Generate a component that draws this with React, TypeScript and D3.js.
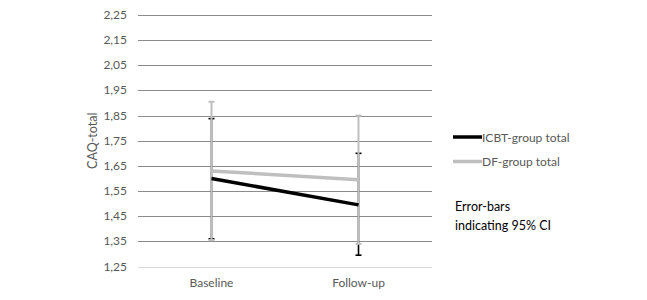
import React from "react";
import * as d3 from "d3";

const categories = ["Baseline", "Follow-up"];
const yTicks = [1.25, 1.35, 1.45, 1.55, 1.65, 1.75, 1.85, 1.95, 2.05, 2.15, 2.25];
const icbtMean = [1.6, 1.495];
const icbtLow = [1.36, 1.295];
const icbtHigh = [1.838, 1.7];
const dfMean = [1.63, 1.595];
const dfLow = [1.355, 1.34];
const dfHigh = [1.905, 1.85];
const legendLabels = ["ICBT-group total", "DF-group total"];
const noteLines = ["Error-bars", "indicating 95% CI"];

const FONT = "Lato, 'Open Sans', sans-serif";
const TXT = "#595959";

export default function App() {
  const W = 647, H = 300;
  const x = d3.scaleBand<string>().domain(categories).range([138, 432]);
  const y = d3.scaleLinear().domain([1.25, 2.25]).range([266.5, 15]);
  const cx = (c: string) => (x(c) as number) + x.bandwidth() / 2;
  const line = d3
    .line<number>()
    .x((_, i) => cx(categories[i]))
    .y((v) => y(v));

  const errBars = (lo: number[], hi: number[], color: string, w: number, key: string) =>
    categories.map((c, i) => (
      <g key={key + i}>
        <line x1={cx(c)} x2={cx(c)} y1={y(lo[i])} y2={y(hi[i])} stroke={color} strokeWidth={w} />
        <line x1={cx(c) - 3} x2={cx(c) + 3} y1={y(lo[i])} y2={y(lo[i])} stroke={color} strokeWidth={w} />
        <line x1={cx(c) - 3} x2={cx(c) + 3} y1={y(hi[i])} y2={y(hi[i])} stroke={color} strokeWidth={w} />
      </g>
    ));

  return (
    <svg width={W} height={H} style={{ position: "absolute", left: 0, top: 0, background: "#fff" }} fontFamily={FONT}>
      <rect width={W} height={H} fill="#fff" />
      {yTicks.map((t, i) => (
        <g key={t}>
          <line
            x1={138}
            x2={432}
            y1={Math.round(y(t)) + 0.5}
            y2={Math.round(y(t)) + 0.5}
            stroke={i === 0 ? "#d9d9d9" : "#8c8c8c"}
            strokeWidth={1}
          />
          <text x={127} y={y(t) + 4} textAnchor="end" fontSize={12} fill={TXT}>
            {d3.format(".2f")(t).replace(".", ",")}
          </text>
        </g>
      ))}
      <text transform={`translate(97,${y(1.75)}) rotate(-90)`} textAnchor="middle" fontSize={12.5} fill={TXT}>
        CAQ-total
      </text>
      {categories.map((c) => (
        <text key={c} x={cx(c)} y={287} textAnchor="middle" fontSize={12} fill={TXT}>
          {c}
        </text>
      ))}
      {errBars(icbtLow, icbtHigh, "#000", 1.6, "icbt")}
      {errBars(dfLow, dfHigh, "#bfbfbf", 2, "df")}
      <path d={line(dfMean) || ""} fill="none" stroke="#bfbfbf" strokeWidth={3.5} />
      <path d={line(icbtMean) || ""} fill="none" stroke="#000" strokeWidth={3.5} />
      <line x1={453} x2={482} y1={137} y2={137} stroke="#000" strokeWidth={3.5} />
      <text x={482} y={141.5} fontSize={12} fill={TXT}>{legendLabels[0]}</text>
      <line x1={453} x2={482} y1={161.5} y2={161.5} stroke="#bfbfbf" strokeWidth={3.5} />
      <text x={482} y={166} fontSize={12} fill={TXT}>{legendLabels[1]}</text>
      <text x={455} y={211} fontSize={12.5} fill="#000">{noteLines[0]}</text>
      <text x={455} y={230} fontSize={12.5} fill="#000">{noteLines[1]}</text>
    </svg>
  );
}
